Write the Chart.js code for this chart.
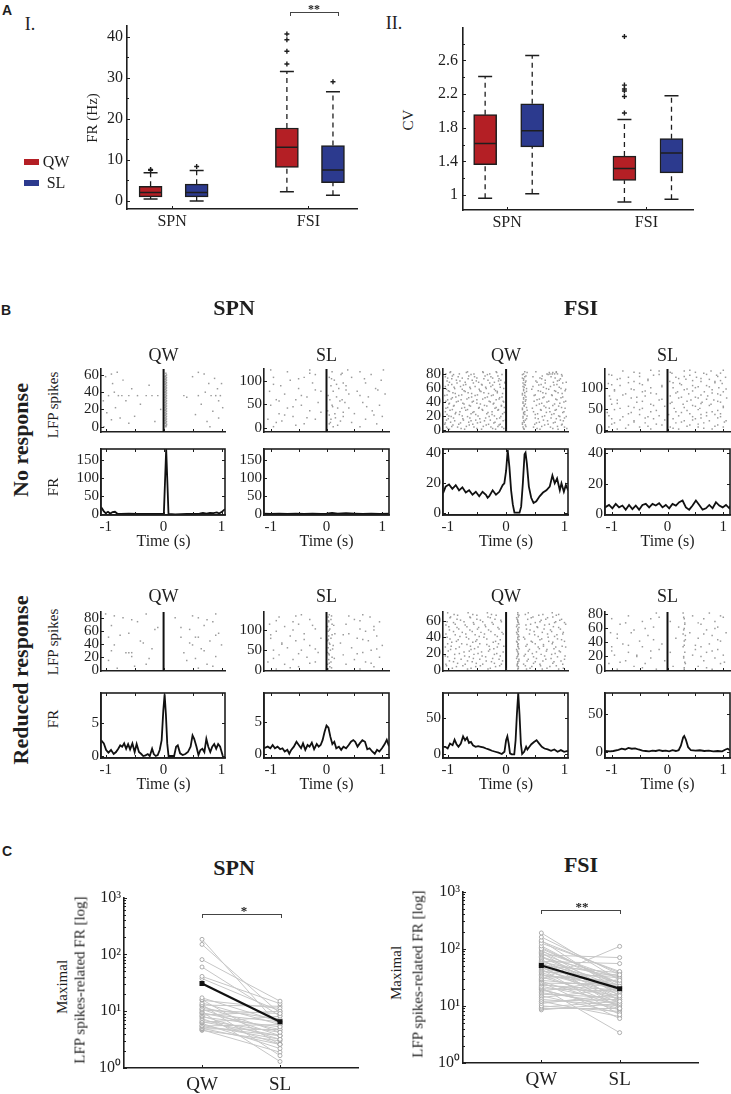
<!DOCTYPE html>
<html lang="en">
<head>
  <meta charset="UTF-8" />
  <title>LFP spikes related firing</title>
  <style>
    body { margin: 0; background: #fff; }
    #fig {
      position: relative;
      width: 731px;
      height: 1094px;
      overflow: hidden;
      font-family: 'Liberation Serif', 'Times New Roman', serif;
      color: #1e1e1e;
    }
    #fig canvas { position: absolute; }
    .t { position: absolute; white-space: nowrap; line-height: 1; }
    .br { position: absolute; border: 1px solid #444; border-bottom: none; }
    .sw { position: absolute; width: 15px; height: 6px; }
  </style>
</head>
<body>
<div id="fig"></div>

<script src="https://cdn.jsdelivr.net/npm/chart.js"></script>
<script>
  // ---- panel A: box plot summaries [min, q1, median, q3, max] for SPN, FSI
  const boxGroups = ['SPN', 'FSI'];
  const condNames = ['QW', 'SL'];
  const frStatsQW = [[0.5, 1.0, 2.1, 3.6, 6.9], [2.25, 8.2, 13.1, 17.75, 31.5]];
  const frStatsSL = [[0.0, 1.0, 2.1, 4.1, 7.4], [1.4, 4.5, 7.55, 13.5, 26.6]];
  const frOutliersQW = [[7.5, 7.7], [33.3, 36.4, 39.2, 40.6]];
  const frOutliersSL = [[8.4], [29.0]];
  const cvStatsQW = [[0.965, 1.363, 1.613, 1.956, 2.409], [0.918, 1.176, 1.316, 1.464, 1.898]];
  const cvStatsSL = [[1.016, 1.574, 1.765, 2.085, 2.659], [0.953, 1.265, 1.5, 1.671, 2.18]];
  const cvOutliersQW = [[], [1.976, 2.171, 2.237, 2.26, 2.307, 2.885]];
  const cvOutliersSL = [[], []];

  // ---- panel B: rasters as [trial, [spike times]] and FR traces as [time, Hz]
  const rasterSpnQwNo = [
    [0, [-1.03, 0.04, 0.8]], [2, [0.05]], [4, [-0.6, 0.03]], [6, [-0.15, 0.05, 0.75]], [8, [-0.9, 0.04]],
    [10, [-0.75, 0.03, 0.95]], [12, [-0.5, 0.05]], [14, [0.04, 0.55]], [16, [-0.98, 0.03]], [18, [0.05, 0.85]],
    [20, [-0.05, 0.04]], [22, [-0.83, 0.03, 1.02]], [24, [0.05]], [26, [-0.4, 0.04, 0.65]], [28, [0.03]],
    [30, [-1.04, -0.65, 0.05, 0.95]], [32, [0.04]], [34, [0.03, 0.4]],
    [36, [-0.95, -0.78, -0.72, -0.6, -0.45, -0.3, -0.2, -0.1, 0.05, 0.35, 0.6, 0.82, 0.9, 0.98]],
    [38, [0.04]], [40, [-0.85, 0.03, 0.72]], [42, [0.05]], [44, [-0.55, 0.04, 0.93]], [46, [0.03]],
    [48, [-0.25, 0.05]], [50, [-0.88, 0.04, 0.78, 1.0]], [52, [0.03]], [54, [-0.7, 0.05]], [56, [0.04, 0.88]],
    [58, [-1.0, 0.03, 0.5]], [60, [0.05]], [61, [-0.9, 0.7]], [62, [0.04]], [63, [-0.8, 0.6]],
    [1, [0.04]], [3, [0.05]], [5, [0.04]], [7, [0.03]], [9, [0.05]], [11, [0.04]], [13, [0.03]], [15, [0.05]],
    [17, [0.04]], [19, [0.03]], [21, [0.05]], [23, [0.04]], [25, [0.03]], [27, [0.05]], [29, [0.04]], [31, [0.03]],
    [33, [0.05]], [35, [0.04]], [37, [0.03]], [39, [0.05]], [41, [0.04]], [43, [0.03]], [45, [0.05]], [47, [0.04]],
    [49, [0.03]], [51, [0.05]], [53, [0.04]], [55, [0.03]], [57, [0.05]], [59, [0.04]]
  ];
  const rasterSpnSlNo = [
    [2, [-0.95, 0.12, 0.6]], [8, [-0.4, 0.05, 0.9]], [14, [-0.8, 0.25]], [18, [-1.05, -0.2, 0.08, 0.7]],
    [24, [-0.6, 0.3, 1.0]], [30, [-0.85, 0.15, 0.5]], [36, [-0.3, 0.02, 0.82]], [42, [-0.7, 0.2, 0.4]],
    [48, [-1.0, -0.45, 0.1, 0.95]], [54, [-0.15, 0.33, 0.65]], [60, [-0.9, -0.55, 0.06, 0.28]],
    [66, [-0.35, 0.18, 0.75]], [72, [-0.75, 0.4, 1.05]], [78, [-1.02, -0.1, 0.12, 0.55]], [84, [-0.5, 0.22, 0.88]],
    [90, [-0.82, 0.08, 0.35]], [96, [-0.25, 0.3, 0.7]], [102, [-0.65, 0.14, 0.98]], [108, [-0.95, -0.4, 0.05, 0.45]],
    [114, [-0.2, 0.26, 0.8]], [120, [-0.7, 0.1, 0.6]], [124, [-1.0, -0.3, 0.38, 1.02]],
    [5, [-0.55, 0.2]], [11, [-0.9, 0.07, 0.45]], [21, [-0.35, 0.16]], [27, [-0.75, 0.05, 0.85]], [33, [-0.1, 0.3]],
    [45, [-0.6, 0.11, 0.72]], [57, [-0.85, 0.24]], [69, [-0.45, 0.03, 0.6]], [81, [-0.2, 0.35, 0.92]],
    [93, [-0.95, 0.18]], [105, [-0.5, 0.09, 0.68]], [117, [-0.3, 0.28]]
  ];
  const rasterFsiQwNo = [
    [1, [-0.97, -0.71, -0.42, -0.18, 0.31, 0.58, 0.89]], [4, [-1.02, -0.83, -0.55, -0.26, -0.07, 0.29, 0.47, 0.76, 1.0]],
    [7, [-0.91, -0.63, -0.34, -0.12, 0.33, 0.66, 0.95]], [10, [-1.04, -0.78, -0.49, -0.21, 0.28, 0.52, 0.81]],
    [13, [-0.88, -0.6, -0.37, -0.05, 0.3, 0.71, 0.98]], [16, [-0.99, -0.74, -0.45, -0.16, 0.35, 0.55, 0.86]],
    [19, [-0.94, -0.66, -0.29, -0.09, 0.29, 0.62, 0.92, 1.03]], [22, [-1.01, -0.8, -0.52, -0.24, 0.32, 0.5, 0.78]],
    [25, [-0.86, -0.57, -0.31, -0.03, 0.3, 0.69, 0.97]], [28, [-0.96, -0.69, -0.4, -0.14, 0.36, 0.6, 0.84]],
    [31, [-1.03, -0.76, -0.47, -0.19, 0.28, 0.45, 0.74, 1.01]], [34, [-0.9, -0.61, -0.33, -0.08, 0.31, 0.65, 0.9]],
    [37, [-0.98, -0.72, -0.44, -0.22, 0.33, 0.57, 0.83]], [40, [-0.85, -0.58, -0.27, -0.04, 0.29, 0.7, 0.99]],
    [43, [-1.0, -0.77, -0.5, -0.17, 0.34, 0.53, 0.87]], [46, [-0.92, -0.64, -0.36, -0.11, 0.3, 0.63, 0.94]],
    [49, [-1.05, -0.81, -0.53, -0.25, 0.32, 0.48, 0.79]], [52, [-0.87, -0.59, -0.3, -0.06, 0.28, 0.68, 0.96]],
    [55, [-0.97, -0.7, -0.43, -0.15, 0.35, 0.59, 0.85]], [58, [-1.02, -0.75, -0.46, -0.2, 0.3, 0.44, 0.73, 1.02]],
    [61, [-0.89, -0.62, -0.35, -0.1, 0.31, 0.64, 0.91]], [64, [-0.99, -0.73, -0.41, -0.23, 0.33, 0.56, 0.82]],
    [67, [-0.84, -0.56, -0.28, -0.02, 0.29, 0.67, 0.97]], [70, [-1.01, -0.79, -0.51, -0.13, 0.34, 0.51, 0.88]],
    [73, [-0.93, -0.65, -0.38, -0.12, 0.3, 0.61, 0.93]], [76, [-1.04, -0.82, -0.54, -0.26, 0.32, 0.46, 0.77]],
    [79, [-0.9, -0.6, -0.32, -0.07, 0.28, 0.72, 0.95]], [82, [-0.96, -0.68, -0.39, -0.16, 0.36, 0.74, 0.8, 0.86]],
    [2, [-1.0, -0.77, -0.5, -0.23, -0.04, 0.3, 0.53, 0.8, 1.04]], [5, [-0.93, -0.68, -0.39, -0.14, 0.34, 0.61, 0.88]],
    [8, [-1.05, -0.81, -0.57, -0.3, -0.1, 0.28, 0.49, 0.72, 0.96]], [11, [-0.95, -0.64, -0.44, -0.19, 0.31, 0.57, 0.84]],
    [14, [-1.02, -0.73, -0.52, -0.27, -0.01, 0.33, 0.64, 0.93]], [17, [-0.9, -0.62, -0.35, -0.11, 0.29, 0.5, 0.77, 1.0]],
    [20, [-0.98, -0.75, -0.48, -0.2, 0.36, 0.66, 0.9]], [23, [-0.87, -0.6, -0.33, -0.06, 0.3, 0.54, 0.82]],
    [26, [-1.04, -0.79, -0.55, -0.24, 0.32, 0.47, 0.75, 0.99]], [29, [-0.92, -0.66, -0.41, -0.13, 0.28, 0.59, 0.86]],
    [32, [-1.0, -0.71, -0.46, -0.17, -0.03, 0.35, 0.68, 0.95]], [35, [-0.89, -0.63, -0.37, -0.08, 0.31, 0.52, 0.8]],
    [38, [-0.97, -0.74, -0.5, -0.21, 0.29, 0.61, 0.92]], [41, [-1.03, -0.82, -0.56, -0.29, -0.05, 0.33, 0.48, 0.73, 1.02]],
    [44, [-0.94, -0.67, -0.4, -0.12, 0.3, 0.57, 0.85]], [47, [-0.86, -0.59, -0.32, -0.07, 0.34, 0.65, 0.97]],
    [50, [-1.01, -0.76, -0.49, -0.22, 0.28, 0.5, 0.78]], [53, [-0.91, -0.65, -0.38, -0.15, 0.32, 0.63, 0.89]],
    [56, [-0.99, -0.72, -0.45, -0.18, 0.3, 0.55, 0.83, 1.01]], [59, [-0.88, -0.61, -0.34, -0.04, 0.35, 0.69, 0.94]],
    [62, [-1.04, -0.78, -0.53, -0.26, 0.29, 0.46, 0.76]], [65, [-0.93, -0.69, -0.42, -0.11, 0.31, 0.6, 0.87]],
    [68, [-0.97, -0.7, -0.47, -0.2, -0.02, 0.33, 0.53, 0.81, 1.03]], [71, [-0.85, -0.58, -0.31, -0.09, 0.3, 0.67, 0.91]],
    [74, [-1.0, -0.75, -0.5, -0.23, 0.28, 0.58, 0.84]], [77, [-0.92, -0.64, -0.36, -0.14, 0.34, 0.62, 0.96]],
    [80, [-1.03, -0.8, -0.55, -0.28, 0.3, 0.7, 0.75, 0.79, 0.83, 0.88]], [83, [-0.95, -0.66, -0.4, -0.17, 0.32, 0.51, 0.86]]
  ];
  const rasterFsiSlNo = [
    [2, [-0.9, -0.3, 0.2, 0.8]], [7, [-1.05, -0.5, 0.05, 0.55, 1.0]], [12, [-0.7, -0.1, 0.4, 0.9]],
    [17, [-0.95, -0.4, 0.15, 0.65]], [22, [-0.6, 0.3, 0.75, 1.05]], [27, [-1.0, -0.25, 0.1, 0.5]],
    [32, [-0.8, -0.35, 0.45, 0.95]], [37, [-0.5, 0.02, 0.6, 0.85]], [42, [-1.08, -0.65, 0.25, 0.7]],
    [47, [-0.2, 0.35, 0.9]], [52, [-0.85, -0.45, 0.12, 0.58]], [57, [-0.7, -0.05, 0.5, 1.0]],
    [62, [-1.0, -0.3, 0.28, 0.78]], [67, [-0.55, 0.08, 0.62, 0.95]], [72, [-0.9, -0.15, 0.42, 0.83]],
    [77, [-0.65, 0.2, 0.55, 1.06]], [82, [-1.04, -0.4, 0.05, 0.72]], [87, [-0.75, -0.2, 0.38, 0.9]],
    [92, [-0.45, 0.18, 0.66, 1.0]], [97, [-0.95, -0.6, 0.3, 0.8]], [102, [-0.3, 0.1, 0.5, 0.92]],
    [107, [-0.85, -0.1, 0.45, 0.7]], [112, [-1.06, -0.5, 0.22, 0.98]], [117, [-0.6, 0.04, 0.6, 0.85]],
    [122, [-0.9, -0.35, 0.33, 0.75]], [127, [-0.7, 0.15, 0.52, 1.04]], [132, [-1.0, -0.25, 0.4, 0.88]],
    [137, [-0.5, 0.08, 0.65, 0.95]], [142, [-0.8, -0.15, 0.3, 0.78]],
    [4, [-0.75, 0.1, 0.65]], [9, [-0.35, 0.35, 0.85]], [14, [-1.0, -0.2, 0.55]], [19, [-0.6, 0.25, 1.02]],
    [24, [-0.85, -0.05, 0.45]], [29, [-0.4, 0.6, 0.9]], [34, [-1.05, -0.15, 0.2, 0.7]], [39, [-0.7, 0.4, 0.95]],
    [44, [-0.3, 0.15, 0.8]], [49, [-0.95, -0.5, 0.55]], [54, [-0.6, 0.3, 1.0]], [59, [-0.25, 0.45, 0.75]],
    [64, [-0.9, 0.05, 0.6]], [69, [-0.45, 0.35, 0.9]], [74, [-1.02, -0.1, 0.7]], [79, [-0.55, 0.25, 0.5]],
    [84, [-0.8, 0.6, 0.95]], [89, [-0.3, 0.15, 0.8]], [94, [-0.95, -0.4, 0.45]], [99, [-0.65, 0.35, 1.05]],
    [104, [-0.1, 0.55, 0.75]], [109, [-1.0, -0.45, 0.25]], [114, [-0.7, 0.1, 0.85]], [119, [-0.35, 0.45, 0.95]],
    [124, [-0.85, 0.2, 0.6]], [129, [-0.5, 0.3, 0.9]], [134, [-1.05, -0.15, 0.7]], [139, [-0.6, 0.05, 0.5]],
    [144, [-0.3, 0.4, 1.0]]
  ];
  const rasterSpnQwRed = [
    [3, [-0.8, 0.6]], [9, [-0.3, 0.75]], [15, [-0.95, 0.4]], [21, [-0.55, 0.9]], [27, [-0.65, -0.6, -0.55, 0.35]],
    [33, [-0.2, 0.65]], [39, [-0.85, 0.5, 1.0]], [45, [-0.4, 0.8]], [51, [-0.95, 0.3, 0.55, 0.6]], [57, [-0.6, 0.95]],
    [63, [-0.15, 0.45]], [69, [-0.9, 0.7]], [75, [-0.45, 0.85]], [81, [-0.7, 0.2, 0.6]], [87, [-1.0, -0.3, 0.9]],
    [6, [-0.5, 0.85]], [18, [-0.25, 0.55]], [30, [-0.9, 0.7]], [42, [-0.35, 0.45]], [54, [-0.75, 0.9]],
    [66, [-0.1, 0.3]], [78, [-0.55, 0.75]], [84, [-0.85, 0.5]]
  ];
  const rasterSpnSlRed = [
    [2, [-0.9, 0.03, 0.6]], [8, [-0.5, 0.06, 0.85]], [14, [-0.75, 0.02, 0.35]], [20, [-1.05, -0.2, 0.08, 0.7]],
    [26, [-0.6, 0.04, 0.5]], [32, [-0.35, 0.1, 0.95]], [38, [-0.85, 0.05, 0.3]], [44, [-0.15, 0.02, 0.65]],
    [50, [-0.95, -0.45, 0.07, 0.8]], [56, [-0.7, 0.03, 0.45]], [62, [-0.3, 0.12, 1.0]], [68, [-0.8, 0.05, 0.25]],
    [74, [-0.55, 0.02, 0.75]], [80, [-1.0, -0.1, 0.08, 0.55]], [86, [-0.65, 0.04, 0.9]], [92, [-0.4, 0.15, 0.4]],
    [98, [-0.9, 0.03, 0.7]], [104, [-0.2, 0.06, 0.6]], [110, [-0.75, 0.02, 0.85]], [116, [-1.02, -0.5, 0.1, 0.35]],
    [122, [-0.6, 0.04, 0.95]], [128, [-0.3, 0.08, 0.5]], [134, [-0.85, 0.03, 0.78]], [140, [-0.45, 0.05, 0.65]],
    [5, [-0.65, 0.09]], [17, [-0.3, 0.05, 0.8]], [29, [-0.95, 0.14]], [41, [-0.5, 0.04, 0.55]],
    [53, [-0.2, 0.11, 0.9]], [65, [-0.8, 0.06]], [77, [-0.4, 0.03, 0.65]], [89, [-1.0, 0.1, 0.3]],
    [101, [-0.6, 0.05, 0.85]], [113, [-0.25, 0.13]], [125, [-0.9, 0.04, 0.6]], [137, [-0.55, 0.09, 0.4]]
  ];
  const rasterFsiQwRed = [
    [1, [-0.98, -0.66, -0.31, 0.2, 0.35, 0.62, 0.9]], [4, [-0.85, -0.52, -0.18, 0.21, 0.44, 0.75]],
    [7, [-1.03, -0.7, -0.4, -0.08, 0.19, 0.3, 0.58, 0.97]], [10, [-0.9, -0.58, -0.25, 0.2, 0.5, 0.82]],
    [13, [-0.77, -0.45, -0.12, 0.22, 0.38, 0.68, 1.0]], [16, [-1.0, -0.63, -0.35, 0.19, 0.47, 0.88]],
    [19, [-0.88, -0.55, -0.2, 0.21, 0.33, 0.6, 0.78]], [22, [-0.72, -0.42, -0.05, 0.2, 0.52, 0.93]],
    [25, [-0.95, -0.6, -0.28, 0.18, 0.4, 0.7]], [28, [-1.04, -0.8, -0.48, -0.15, 0.21, 0.55, 0.85, 1.02]],
    [31, [-0.67, -0.33, 0.2, 0.36, 0.64]], [34, [-0.93, -0.57, -0.22, 0.19, 0.45, 0.8]],
    [37, [-0.82, -0.5, -0.1, 0.22, 0.58, 0.95]], [40, [-1.01, -0.68, -0.38, 0.2, 0.3, 0.72]],
    [43, [-0.87, -0.53, -0.19, 0.21, 0.49, 0.87]], [46, [-0.75, -0.43, -0.07, 0.18, 0.62, 0.98]],
    [49, [-0.97, -0.62, -0.3, 0.2, 0.41, 0.76]], [52, [-0.84, -0.47, -0.14, 0.22, 0.54, 0.9]],
    [55, [-1.03, -0.7, -0.36, 0.19, 0.34, 0.66]], [58, [-0.9, -0.56, -0.24, 0.21, 0.5, 0.83, 1.0]],
    [61, [-0.78, -0.44, -0.09, 0.2, 0.6, 0.92]], [64, [-0.96, -0.61, -0.27, 0.18, 0.43, 0.71]],
    [67, [-0.83, -0.5, -0.17, 0.22, 0.56, 0.86]], [70, [-1.0, -0.65, -0.32, 0.2, 0.38, 0.79]],
    [2, [-0.92, -0.6, -0.27, 0.21, 0.41, 0.7, 0.98]], [5, [-1.02, -0.74, -0.44, -0.11, 0.19, 0.33, 0.59, 0.86]],
    [8, [-0.83, -0.51, -0.2, 0.2, 0.47, 0.8]], [11, [-0.97, -0.66, -0.34, -0.06, 0.22, 0.36, 0.63, 0.94]],
    [14, [-0.88, -0.56, -0.23, 0.18, 0.52, 0.77]], [17, [-1.04, -0.71, -0.41, -0.1, 0.2, 0.31, 0.66, 1.01]],
    [20, [-0.8, -0.48, -0.16, 0.21, 0.45, 0.84]], [23, [-0.99, -0.63, -0.3, 0.19, 0.38, 0.69, 0.91]],
    [26, [-0.86, -0.54, -0.21, 0.22, 0.57, 0.82]], [29, [-0.94, -0.61, -0.29, -0.04, 0.2, 0.34, 0.64, 0.96]],
    [32, [-1.0, -0.76, -0.45, -0.13, 0.21, 0.5, 0.79]], [35, [-0.85, -0.52, -0.18, 0.18, 0.43, 0.73, 1.0]],
    [38, [-0.96, -0.64, -0.33, 0.2, 0.32, 0.61, 0.88]], [41, [-0.79, -0.46, -0.15, 0.22, 0.55, 0.83]],
    [44, [-1.03, -0.69, -0.37, -0.05, 0.19, 0.4, 0.71, 0.97]], [47, [-0.9, -0.58, -0.26, 0.21, 0.48, 0.78]],
    [50, [-0.81, -0.49, -0.12, 0.2, 0.35, 0.65, 0.93]], [53, [-0.98, -0.67, -0.35, 0.18, 0.53, 0.81]],
    [56, [-0.87, -0.55, -0.22, 0.22, 0.42, 0.74, 1.02]], [59, [-1.01, -0.72, -0.4, -0.08, 0.2, 0.58, 0.85]],
    [62, [-0.84, -0.5, -0.19, 0.19, 0.37, 0.68, 0.95]], [65, [-0.95, -0.62, -0.31, 0.21, 0.46, 0.8]],
    [68, [-0.89, -0.57, -0.25, 0.2, 0.33, 0.63, 0.9]]
  ];
  const rasterFsiSlRed = [
    [1, [-0.9, -0.2, 0.3, 0.8]], [5, [-0.6, 0.1, 0.55]], [9, [-1.05, -0.4, 0.32, 0.95]], [13, [-0.75, -0.05, 0.65]],
    [17, [-0.3, 0.29, 0.85]], [21, [-0.95, -0.55, 0.45, 1.0]], [25, [-0.7, 0.05, 0.31, 0.7]], [29, [-0.15, 0.5, 0.9]],
    [33, [-1.0, -0.45, 0.28, 0.6]], [37, [-0.8, -0.1, 0.75]], [41, [-0.5, 0.3, 0.95]], [45, [-0.9, 0.15, 0.55]],
    [49, [-0.35, 0.32, 0.8]], [53, [-1.02, -0.65, 0.4, 1.05]], [57, [-0.6, 0.29, 0.7]], [61, [-0.25, 0.2, 0.9]],
    [65, [-0.85, 0.31, 0.6]], [69, [-0.45, 0.05, 0.85]], [73, [-1.0, -0.3, 0.3, 0.65]], [77, [-0.7, 0.45, 0.95]],
    [81, [-0.2, 0.28, 0.75]],
    [3, [-0.45, 0.3, 0.7]], [11, [-0.85, 0.31, 1.02]], [19, [-0.55, 0.29, 0.6]], [27, [-1.0, -0.3, 0.8]],
    [35, [-0.7, 0.3, 0.5]], [43, [-0.25, 0.32, 0.9]], [51, [-0.9, 0.28, 0.65]], [59, [-0.4, 0.3, 0.85]],
    [67, [-0.75, 0.31, 0.55]], [75, [-0.15, 0.29, 1.0]]
  ];

  const frSpnQwNo = [[-1.08, 20], [-1.03, 8], [-1.0, 3], [-0.96, 7], [-0.92, 2], [-0.88, 6], [-0.84, 7], [-0.8, 2],
    [-0.74, 1], [-0.6, 2], [-0.45, 1], [-0.3, 1], [-0.15, 1], [-0.02, 1], [0.005, 2], [0.045, 180], [0.085, 1],
    [0.2, 0], [0.4, 1], [0.55, 1], [0.62, 2], [0.68, 4], [0.74, 2], [0.8, 4], [0.86, 3], [0.92, 5], [0.96, 2],
    [1.0, 6], [1.06, 14]];
  const frSpnSlNo = [[-1.12, 2], [-1.0, 1], [-0.85, 2], [-0.7, 1], [-0.55, 2], [-0.4, 1], [-0.25, 2], [-0.1, 1],
    [0.0, 2], [0.1, 4], [0.2, 2], [0.35, 3], [0.5, 2], [0.65, 1], [0.8, 2], [0.95, 1], [1.12, 2]];
  const frFsiQwNo = [[-1.08, 13], [-1.035, 17.5], [-0.977, 19], [-0.92, 16], [-0.862, 18.5], [-0.805, 15],
    [-0.748, 17], [-0.69, 13.5], [-0.633, 15], [-0.575, 12], [-0.518, 14], [-0.46, 11], [-0.403, 14], [-0.345, 12],
    [-0.316, 10], [-0.288, 11], [-0.23, 15], [-0.173, 12], [-0.116, 14], [-0.058, 18.5], [-0.03, 19.7], [0, 28],
    [0.028, 42], [0.057, 30.6], [0.086, 15], [0.115, 5.5], [0.143, 0], [0.23, 0], [0.258, 4], [0.287, 19.7],
    [0.316, 39.3], [0.333, 40.4], [0.356, 33], [0.39, 17.5], [0.43, 10], [0.47, 6.5], [0.517, 7.6], [0.574, 11],
    [0.632, 13.5], [0.69, 15], [0.747, 17.5], [0.793, 25], [0.833, 19.7], [0.873, 23], [0.92, 15], [0.948, 19.7],
    [0.989, 14], [1.023, 18.6], [1.063, 15]];
  const frFsiSlNo = [[-1.12, 4.4], [-1.048, 6], [-0.988, 3.8], [-0.928, 6.7], [-0.868, 4.4], [-0.808, 5.6],
    [-0.749, 2.9], [-0.689, 6], [-0.629, 3.3], [-0.569, 5.6], [-0.509, 2.9], [-0.449, 6], [-0.389, 6.7],
    [-0.329, 4.4], [-0.269, 6.7], [-0.21, 5.6], [-0.15, 7.1], [-0.09, 4.4], [-0.03, 6], [0.03, 3.8], [0.09, 6.7],
    [0.15, 5.6], [0.21, 7.8], [0.27, 8.9], [0.33, 4.4], [0.389, 2.9], [0.449, 5.6], [0.509, 8.9], [0.569, 6],
    [0.629, 2.9], [0.689, 3.8], [0.749, 6], [0.808, 3.8], [0.868, 7.8], [0.928, 5.6], [0.988, 4.4], [1.048, 6],
    [1.108, 3.8], [1.13, 5.6]];
  const frSpnQwRed = [[-1.08, 2.4], [-1.031, 1.9], [-0.991, 0.9], [-0.952, 0.5], [-0.907, 0.9], [-0.861, 0.3],
    [-0.821, 0.6], [-0.782, 1.1], [-0.748, 1.6], [-0.714, 1.4], [-0.68, 1.9], [-0.646, 1.1], [-0.612, 1.8],
    [-0.578, 1.0], [-0.538, 1.9], [-0.499, 0.6], [-0.465, 1.8], [-0.425, 0.6], [-0.385, 0.3], [-0.351, 0],
    [-0.311, 0.1], [-0.272, 0.3], [-0.238, 0], [-0.198, 1.1], [-0.169, 0.3], [-0.135, 0], [-0.101, 0.15],
    [-0.067, 0.9], [-0.033, 2.4], [-0.005, 6.8], [0.018, 9.3], [0.04, 6.3], [0.063, 1.9], [0.086, 0], [0.182, 0],
    [0.216, 1.4], [0.245, 1.6], [0.285, 0.4], [0.33, 0.15], [0.375, 0.3], [0.42, 0.6], [0.466, 1.4], [0.5, 3.1],
    [0.528, 2.6], [0.568, 1.4], [0.602, 0.15], [0.636, 0.9], [0.67, 1.1], [0.704, 0.6], [0.738, 2.6], [0.772, 1.4],
    [0.806, 0.6], [0.84, 1.4], [0.874, 1.8], [0.908, 1.1], [0.942, 1.8], [0.976, 1.4], [1.022, 0]];
  const frSpnSlRed = [[-1.12, 0.9], [-1.053, 1.15], [-1.006, 0.9], [-0.965, 1.4], [-0.924, 0.9], [-0.877, 1.15],
    [-0.83, 0.75], [-0.789, 0.9], [-0.749, 0.4], [-0.702, 0.65], [-0.667, 0.05], [-0.632, 0.65], [-0.585, 1.15],
    [-0.538, 1.9], [-0.497, 1.4], [-0.456, 0.9], [-0.421, 1.65], [-0.38, 0.65], [-0.339, 1.4], [-0.304, 1.15],
    [-0.263, 1.75], [-0.222, 0.75], [-0.175, 1.55], [-0.14, 1.15], [-0.105, 1.4], [-0.07, 2.15], [-0.035, 3.4],
    [0, 4.4], [0.035, 4.05], [0.07, 2.65], [0.105, 1.55], [0.14, 1.9], [0.175, 0.9], [0.222, 1.15], [0.263, 0.65],
    [0.304, 1.15], [0.351, 0.9], [0.398, 1.4], [0.439, 1.9], [0.48, 2.15], [0.515, 1.9], [0.556, 1.15],
    [0.596, 1.65], [0.643, 2.15], [0.69, 1.9], [0.731, 0.75], [0.772, 0.9], [0.819, 0.4], [0.865, 0.05],
    [0.906, 0.65], [0.947, 0.4], [0.994, 0.9], [1.04, 1.5], [1.08, 2.2], [1.12, 1.2]];
  const frFsiQwRed = [[-1.08, 10.4], [-1.04, 10.4], [-1.0, 8.1], [-0.96, 14.9], [-0.916, 12.6], [-0.882, 20.3],
    [-0.848, 14], [-0.815, 10.4], [-0.775, 14.9], [-0.736, 24.8], [-0.702, 19.4], [-0.669, 23], [-0.635, 15.8],
    [-0.601, 17.1], [-0.567, 12.6], [-0.522, 10.4], [-0.478, 11.3], [-0.433, 10.4], [-0.388, 9.5], [-0.343, 8.1],
    [-0.298, 6.8], [-0.242, 5], [-0.185, 3.6], [-0.129, 2.3], [-0.073, 0.5], [-0.028, 3.6], [0, 19.4],
    [0.022, 24.8], [0.045, 14.9], [0.067, 1.4], [0.096, 0], [0.14, 0], [0.163, 19.4], [0.185, 55], [0.208, 84.7],
    [0.23, 55], [0.253, 14.9], [0.275, 0.5], [0.309, 3.6], [0.343, 10.4], [0.365, 6.8], [0.399, 10.4], [0.433, 14],
    [0.478, 17.1], [0.522, 19.4], [0.567, 14.9], [0.612, 10.4], [0.657, 8.1], [0.713, 6.8], [0.77, 5],
    [0.826, 6.8], [0.882, 3.6], [0.938, 5.9], [0.994, 3.6], [1.06, 5]];
  const frFsiSlRed = [[-1.12, 1], [-1.03, 0.5], [-0.97, 1], [-0.88, 2.5], [-0.82, 4], [-0.76, 3], [-0.7, 5],
    [-0.64, 4], [-0.58, 4.5], [-0.52, 3], [-0.45, 1.5], [-0.39, 1], [-0.33, 0.5], [-0.27, 1.5], [-0.21, 1],
    [-0.15, 2], [-0.09, 1], [-0.03, 1.5], [0.03, 0.5], [0.09, 2], [0.15, 1], [0.2, 2], [0.24, 8], [0.28, 19],
    [0.3, 21], [0.33, 16], [0.37, 6], [0.42, 2], [0.5, 1.5], [0.58, 2], [0.66, 1], [0.74, 1.5], [0.82, 0.5],
    [0.9, 1], [0.98, 0.5], [1.04, 3], [1.08, 4], [1.12, 2]];

  // ---- panel C: maximal LFP-spike related FR per neuron, QW vs SL
  const spnPeakQW = [184, 150, 81, 60, 41, 37.6, 17.2, 16.0, 15.6, 14.0, 13.1, 12.8, 12.2, 11.2, 10.8, 10.4, 9.7,
    9.4, 9.1, 8.5, 8.2, 7.9, 7.4, 6.9, 6.5, 6.3, 6.1, 5.65, 5.5, 5.3, 5.0, 4.9, 4.7, 4.6];
  const spnPeakSL = [5.3, 9.1, 15, 8.2, 13.6, 10, 6.5, 2.6, 11.2, 5.8, 1.65, 12.2, 4.25, 7.3, 3.7, 9.1, 1.3,
    4.75, 6.5, 10, 3.2, 5.3, 2.6, 4.25, 3.7, 8.15, 2.2, 3.2, 5.8, 3.7, 2.6, 4.75, 1.9, 3.0];
  const spnMean = [30.8, 6.5];
  const fsiPeakQW = [189, 160, 140, 125, 112, 100, 95, 90, 86, 82, 78, 74, 70, 66, 63, 60, 57, 54, 51, 48,
    46, 44, 42, 40, 38, 36, 34, 32, 30, 29, 28, 26, 25, 24, 22, 21, 20, 19, 18, 17,
    16, 15, 14, 13, 12, 12, 11, 10, 9.5, 9, 8.5, 135, 105, 72, 58, 47, 35, 27, 23, 19.5];
  const fsiPeakSL = [28, 35, 18, 40, 22, 25, 15, 30, 12, 25, 70, 20, 33, 9, 17, 55, 14, 26, 38, 11,
    23, 7, 19, 31, 16, 10, 27, 13, 36, 110, 21, 6, 24, 15, 12, 3.4, 18, 9, 29, 11,
    14, 7.5, 20, 10, 13, 6.5, 16, 8, 12, 9, 11, 38, 24, 17, 32, 13, 22, 10, 19, 8.5];
  const fsiMean = [51, 20];

  const SERIF = "'Liberation Serif', 'Times New Roman', serif";
  const INK = '#1e1e1e';
  const boxColors = ['#b41f25', '#2c3a8e'];
  const groupPos = [1, 2];
  const boxOffsets = [-0.158, 0.18];
  const fig = document.getElementById('fig');

  // MATLAB-like inward tick marks, optional full box
  Chart.register({
    id: 'inTicks',
    afterDraw(chart, args, o) {
      if (!o || !o.x) return;
      const { ctx, chartArea: a, scales } = chart;
      const L = 3;
      ctx.save();
      ctx.strokeStyle = INK;
      ctx.lineWidth = 1;
      ctx.beginPath();
      o.x.forEach(v => {
        const p = Math.round(scales.x.getPixelForValue(v)) + 0.5;
        ctx.moveTo(p, a.bottom); ctx.lineTo(p, a.bottom - L);
        if (o.box) { ctx.moveTo(p, a.top); ctx.lineTo(p, a.top + L); }
      });
      const yt = (vals, len) => vals.forEach(v => {
        const p = Math.round(scales.y.getPixelForValue(v)) + 0.5;
        ctx.moveTo(a.left, p); ctx.lineTo(a.left + len, p);
        if (o.box) { ctx.moveTo(a.right, p); ctx.lineTo(a.right - len, p); }
      });
      yt(o.y || [], L);
      yt(o.minor || [], 2);
      ctx.stroke();
      if (o.box) {
        ctx.lineWidth = 1.6;
        ctx.strokeRect(a.left, a.top, a.width, a.height);
      }
      ctx.restore();
    }
  });

  function axis(min, max, ticks, size, pad, fmt, extra) {
    return Object.assign({
      type: 'linear', min, max, offset: false,
      grid: { display: false, drawTicks: false },
      border: { display: true, color: INK, width: 1.6 },
      ticks: {
        autoSkip: false, maxRotation: 0, padding: pad, color: INK,
        font: { family: SERIF, size }, callback: fmt || (v => String(v))
      },
      afterBuildTicks: s => { s.ticks = ticks.map(v => ({ value: v })); }
    }, extra || {});
  }

  function makeChart(area, pad, type, datasets, xAxis, yAxis, marks) {
    const [x, y, w, h] = area;
    const c = document.createElement('canvas');
    c.width = w + pad[0] + pad[1];
    c.height = h + pad[2] + pad[3];
    c.style.left = (x - pad[0]) + 'px';
    c.style.top = (y - pad[2]) + 'px';
    fig.appendChild(c);
    xAxis.afterFit = s => { s.height = pad[3]; };
    yAxis.afterFit = s => { s.width = pad[0]; };
    return new Chart(c, {
      type,
      data: { datasets },
      options: {
        responsive: false, animation: false, events: [],
        layout: { padding: { left: 0, right: pad[1], top: pad[2], bottom: 0 } },
        scales: { x: xAxis, y: yAxis },
        plugins: { legend: { display: false }, tooltip: { enabled: false }, inTicks: marks }
      }
    });
  }

  function txt(s, x, y, size, opts = {}) {
    const d = document.createElement('div');
    d.className = 't';
    d.textContent = s;
    d.style.left = x + 'px';
    d.style.top = y + 'px';
    d.style.fontSize = size + 'px';
    if (opts.bold) d.style.fontWeight = 'bold';
    if (opts.sans) d.style.fontFamily = "'Liberation Sans', Arial, sans-serif";
    d.style.transform = 'translate(-50%,-50%)' + (opts.rot ? ' rotate(-90deg)' : '');
    fig.appendChild(d);
  }

  function bracket(x1, x2, y, drop) {
    const d = document.createElement('div');
    d.className = 'br';
    Object.assign(d.style, { left: x1 + 'px', top: y + 'px', width: (x2 - x1) + 'px', height: drop + 'px' });
    fig.appendChild(d);
  }

  // ---- panel A
  function boxDatasets(statsQW, statsSL, outQW, outSL) {
    const boxes = [], colors = [], whisk = [], caps = [], meds = [], outs = [];
    [[statsQW, outQW], [statsSL, outSL]].forEach(([stats, outl], c) => stats.forEach((s, g) => {
      const x = groupPos[g] + boxOffsets[c];
      boxes.push({ x, y: [s[1], s[3]] });
      colors.push(boxColors[c]);
      whisk.push({ x, y: s[0] }, { x, y: s[1] }, { x, y: null }, { x, y: s[3] }, { x, y: s[4] }, { x, y: null });
      caps.push({ x, y: s[0] }, { x, y: s[4] });
      meds.push({ x, y: s[2] });
      outl[g].forEach(v => outs.push({ x, y: v }));
    }));
    return [
      { type: 'bar', data: boxes, backgroundColor: colors, borderColor: INK, borderWidth: 1.5,
        borderSkipped: false, barThickness: 23, grouped: false, order: 2 },
      { type: 'line', data: whisk, borderColor: INK, borderWidth: 1.3, borderDash: [5, 4],
        pointRadius: 0, spanGaps: false, order: 3 },
      { type: 'scatter', data: caps, pointStyle: 'line', pointRadius: 7, pointBorderWidth: 1.5,
        pointBorderColor: INK, order: 1 },
      { type: 'scatter', data: meds, pointStyle: 'line', pointRadius: 11, pointBorderWidth: 1.5,
        pointBorderColor: INK, order: 0 },
      { type: 'scatter', data: outs, pointStyle: 'cross', pointRadius: 2.5, pointBorderWidth: 1.4,
        pointBorderColor: INK, order: 0 }
    ];
  }

  const groupLabel = v => boxGroups[groupPos.indexOf(v)];
  makeChart([127, 24, 235, 185], [45, 8, 12, 30], 'bar',
    boxDatasets(frStatsQW, frStatsSL, frOutliersQW, frOutliersSL),
    axis(0.669, 2.36, groupPos, 16, 3, groupLabel),
    axis(-1.93, 42.65, [0, 10, 20, 30, 40], 16, 4),
    { x: groupPos, y: [0, 10, 20, 30, 40], minor: [5, 15, 25, 35] });

  const cvTicks = [1, 1.4, 1.8, 2.2, 2.6];
  makeChart([463, 25, 235, 185], [45, 8, 12, 30], 'bar',
    boxDatasets(cvStatsQW, cvStatsSL, cvOutliersQW, cvOutliersSL),
    axis(0.683, 2.338, groupPos, 16, 3, groupLabel),
    axis(0.824, 2.99, cvTicks, 16, 5, v => String(v)),
    { x: groupPos, y: cvTicks, minor: [1.2, 1.6, 2.0, 2.4, 2.8] });

  txt('A', 7, 10, 14, { bold: true, sans: true });
  txt('I.', 30, 24, 18);
  txt('II.', 394, 23, 18);
  txt('FR (Hz)', 92, 118, 15, { rot: true });
  txt('CV', 408, 120, 15, { rot: true });
  condNames.forEach((n, i) => {
    const sw = document.createElement('div');
    sw.className = 'sw';
    sw.style.left = '24px';
    sw.style.top = (159 + i * 21) + 'px';
    sw.style.background = boxColors[i];
    fig.appendChild(sw);
    txt(n, 56, 162 + i * 21, 16);
  });
  bracket(290, 337, 12, 3);
  txt('**', 314, 9, 12, { bold: true });

  // ---- panel B
  const colLeft = [101, 264, 443, 605];
  const colWidth = [124, 125, 125, 125];
  const colZero = [163.5, 326.5, 506, 667.5];
  const xRangeQW = [-1.08, 1.06];
  const xRangeSL = [-1.12, 1.12];
  const rows = [
    { rasterTop: 368, rasterH: 71, frTop: 448, frH: 67, titleY: 355, label: 'No response', labelY: 440,
      lfpY: 405, frY: 487, timeY: 541 },
    { rasterTop: 611, rasterH: 67, frTop: 692, frH: 66, titleY: 596, label: 'Reduced response', labelY: 680,
      lfpY: 642, frY: 719, timeY: 784 }
  ];
  const cells = [
    [
      { raster: rasterSpnQwNo, ry: [-6.2, 66.9], rt: [0, 20, 40, 60], fr: frSpnQwNo, fy: [-2, 180], ft: [0, 50, 100, 150] },
      { raster: rasterSpnSlNo, ry: [-9.5, 126], rt: [0, 50, 100], fr: frSpnSlNo, fy: [-2, 180], ft: [0, 50, 100, 150] },
      { raster: rasterFsiQwNo, ry: [-3, 87], rt: [0, 20, 40, 60, 80], fr: frFsiQwNo, fy: [-1.6, 42.8], ft: [0, 20, 40] },
      { raster: rasterFsiSlNo, ry: [-5, 147], rt: [0, 50, 100], fr: frFsiSlNo, fy: [-0.6, 42.7], ft: [0, 20, 40] }
    ],
    [
      { raster: rasterSpnQwRed, ry: [-1.4, 90], rt: [0, 20, 40, 60, 80], fr: frSpnQwRed, fy: [-0.3, 9.5], ft: [0, 5] },
      { raster: rasterSpnSlRed, ry: [-3, 147], rt: [0, 50, 100], fr: frSpnSlRed, fy: [-0.6, 9.4], ft: [0, 5] },
      { raster: rasterFsiQwRed, ry: [-1.4, 71], rt: [0, 20, 40, 60], fr: frFsiQwRed, fy: [-5, 84.6], ft: [0, 50] },
      { raster: rasterFsiSlRed, ry: [-1.6, 82.5], rt: [0, 20, 40, 60, 80], fr: frFsiSlRed, fy: [-8.3, 78], ft: [0, 50] }
    ]
  ];
  const timeTicks = [-1, 0, 1];
  const timeMarks = [-1, -0.5, 0, 0.5, 1];

  function rasterPoints(list) {
    const pts = [];
    list.forEach(([trial, times]) => times.forEach(t => pts.push({ x: t, y: trial })));
    return pts;
  }

  rows.forEach((row, r) => {
    cells[r].forEach((cell, c) => {
      const xr = c % 2 === 0 ? xRangeQW : xRangeSL;
      const dots = {
        data: rasterPoints(cell.raster), pointStyle: 'rect', pointRadius: 1.05,
        pointBorderWidth: 0, pointBackgroundColor: '#9a9a9a', showLine: false
      };
      const zero = {
        data: [{ x: 0, y: cell.ry[0] }, { x: 0, y: cell.ry[1] }], showLine: true,
        borderColor: '#111', borderWidth: 2, pointRadius: 0
      };
      const rx = axis(xr[0], xr[1], timeTicks, 15, 3);
      rx.ticks.display = false;
      makeChart([colLeft[c], row.rasterTop, colWidth[c], row.rasterH], [40, 10, 10, 4], 'scatter',
        [zero, dots], rx, axis(cell.ry[0], cell.ry[1], cell.rt, 15, 2),
        { x: timeMarks, y: cell.rt });

      const trace = {
        type: 'line', data: cell.fr, borderColor: '#111', borderWidth: 1.8,
        pointRadius: 0, tension: 0
      };
      makeChart([colLeft[c], row.frTop, colWidth[c], row.frH], [40, 10, 10, 22], 'line',
        [trace], axis(xr[0], xr[1], timeTicks, 15, 3), axis(cell.fy[0], cell.fy[1], cell.ft, 15, 2),
        { x: timeMarks, y: cell.ft, box: true });

      txt(condNames[c % 2], colZero[c], row.titleY, 18);
      txt('Time (s)', colZero[c], row.timeY, 16);
    });
    txt(row.label, 21, row.labelY, 22, { bold: true, rot: true });
    txt('LFP spikes', 53, row.lfpY, 15, { rot: true });
    txt('FR', 53, row.frY, 15, { rot: true });
  });
  txt('B', 6, 310, 14, { bold: true, sans: true });
  txt('SPN', 234, 308, 22, { bold: true });
  txt('FSI', 581, 308, 22, { bold: true });

  // ---- panel C
  const decades = [1, 10, 100, 1000];
  const decadeLabels = ['10\u2070', '10\u00b9', '10\u00b2', '10\u00b3'];
  const logMinor = [2, 3, 4, 5, 6, 7, 8, 9].flatMap(m => [1, 10, 100].map(d => m * d));

  function pairedPanel(area, peakQW, peakSL, mean) {
    const sets = peakQW.map((q, i) => ({
      data: [{ x: groupPos[0], y: q }, { x: groupPos[1], y: peakSL[i] }],
      borderColor: '#c6c6c6', borderWidth: 1, pointRadius: 2, pointBackgroundColor: '#fff',
      pointBorderColor: '#9a9a9a', pointBorderWidth: 0.8, order: 1
    }));
    sets.push({
      data: [{ x: groupPos[0], y: mean[0] }, { x: groupPos[1], y: mean[1] }],
      borderColor: '#111', borderWidth: 2.2, pointRadius: 2, pointStyle: 'rect',
      pointBackgroundColor: '#111', pointBorderColor: '#111', order: 0
    });
    const ya = axis(1, 1000, decades, 16, 3, v => decadeLabels[decades.indexOf(v)]);
    ya.type = 'logarithmic';
    makeChart(area, [45, 10, 12, 32], 'line', sets,
      axis(0, 3, groupPos, 19, 6, v => condNames[groupPos.indexOf(v)]), ya,
      { x: groupPos, y: decades, minor: logMinor });
  }

  pairedPanel([124, 897, 234, 171], spnPeakQW, spnPeakSL, spnMean);
  pairedPanel([463, 891, 235, 172], fsiPeakQW, fsiPeakSL, fsiMean);

  txt('C', 7, 851, 14, { bold: true, sans: true });
  txt('SPN', 234, 868, 22, { bold: true });
  txt('FSI', 581, 865, 22, { bold: true });
  txt('Maximal', 62, 987, 15, { rot: true });
  txt('LFP spikes-related FR [log]', 80, 980, 15, { rot: true });
  txt('Maximal', 396, 973, 15, { rot: true });
  txt('LFP spikes-related FR [log]', 418, 974, 15, { rot: true });
  bracket(202, 280, 914, 3);
  txt('*', 244, 910, 13, { bold: true });
  bracket(541, 619, 910, 3);
  txt('**', 582, 906, 13, { bold: true });
</script>
</body>
</html>
